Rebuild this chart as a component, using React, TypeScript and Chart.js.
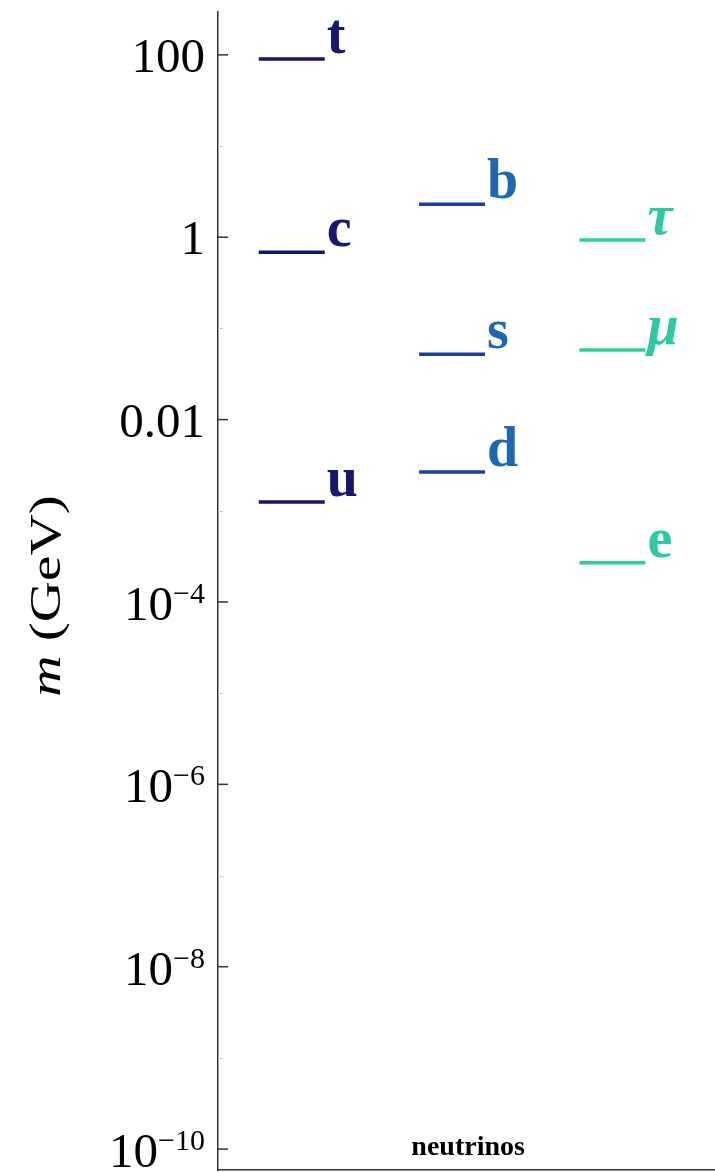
import React, { useEffect, useRef } from "react";
import { Chart, registerables } from "chart.js";

Chart.register(...registerables);

// ---- data ----
const categories = ["up-type quarks", "down-type quarks", "charged leptons"];
const upNames = ["t", "c", "u"];
const upMasses = [90, 0.685, 0.00125];
const downNames = ["b", "s", "d"];
const downMasses = [2.3, 0.052, 0.00267];
const leptonNames = ["τ", "μ", "e"];
const leptonMasses = [0.93, 0.058, 0.00027];
const italicNames = ["τ", "μ"];

const tickValues = [100, 1, 0.01, 1e-4, 1e-6, 1e-8, 1e-10];
const tickLabels = ["100", "1", "0.01", "10^−4", "10^−6", "10^−8", "10^−10"];
const minorTickValues = [10, 0.1, 1e-3, 1e-5, 1e-7, 1e-9];

const neutrinoLabel = "neutrinos";
const neutrinoPosition = { x: 1.1, y: 1e-10 };

const yTitleVar = "m";
const yTitleUnit = " (GeV)";

const yMin = 5.9e-11;
const yMax = 295;

const SERIF = '"Liberation Serif", "Times New Roman", serif';

const groups = [
  { name: categories[0], names: upNames, masses: upMasses, line: "#15156b", text: "#18166f" },
  { name: categories[1], names: downNames, masses: downMasses, line: "#1d3f98", text: "#1e68b2" },
  { name: categories[2], names: leptonNames, masses: leptonMasses, line: "#2bcf9f", text: "#2cc9a3" },
];

const decorPlugin = {
  id: "decor",
  afterDatasetsDraw(chart: any) {
    const ctx = chart.ctx as CanvasRenderingContext2D;
    chart.data.datasets.forEach((ds: any, di: number) => {
      const meta = chart.getDatasetMeta(di);
      ctx.save();
      ctx.fillStyle = ds.labelColor;
      ctx.textAlign = "left";
      ctx.textBaseline = "alphabetic";
      meta.data.forEach((pt: any, i: number) => {
        const nm = ds.names[i];
        const it = italicNames.includes(nm);
        ctx.font = `${it ? "italic " : ""}bold 56px ${SERIF}`;
        ctx.fillText(nm, pt.x + ds.pointRadius + 2, pt.y - 6);
      });
      ctx.restore();
    });
  },
  afterDraw(chart: any) {
    const ctx = chart.ctx as CanvasRenderingContext2D;
    const y = chart.scales.y;
    const x = chart.scales.x;
    const left = chart.chartArea.left;

    ctx.save();
    ctx.strokeStyle = "#c8c8c8";
    ctx.lineWidth = 1;
    minorTickValues.forEach((v) => {
      const py = Math.round(y.getPixelForValue(v)) + 0.5;
      ctx.beginPath();
      ctx.moveTo(left, py);
      ctx.lineTo(left + 5, py);
      ctx.stroke();
    });
    ctx.strokeStyle = "#333";
    ctx.lineWidth = 1.5;
    tickValues.forEach((v) => {
      const py = y.getPixelForValue(v);
      ctx.beginPath();
      ctx.moveTo(left, py);
      ctx.lineTo(left + 10, py);
      ctx.stroke();
    });

    ctx.fillStyle = "#000";
    ctx.textBaseline = "alphabetic";
    ctx.textAlign = "left";
    const right = left - 13;
    tickValues.forEach((v, i) => {
      const py = y.getPixelForValue(v);
      const parts = tickLabels[i].split("^");
      ctx.font = `49px ${SERIF}`;
      const w1 = ctx.measureText(parts[0]).width;
      if (parts.length === 1) {
        ctx.fillText(parts[0], right - w1, py + 17);
      } else {
        ctx.font = `30px ${SERIF}`;
        const w2 = ctx.measureText(parts[1]).width;
        ctx.font = `49px ${SERIF}`;
        ctx.fillText(parts[0], right - w1 - w2, py + 18);
        ctx.font = `30px ${SERIF}`;
        ctx.fillText(parts[1], right - w2, py + 1);
      }
    });

    ctx.font = `bold 28px ${SERIF}`;
    ctx.textAlign = "center";
    ctx.fillText(
      neutrinoLabel,
      x.getPixelForValue(neutrinoPosition.x),
      y.getPixelForValue(neutrinoPosition.y) + 6
    );

    ctx.translate(60, (chart.chartArea.top + chart.chartArea.bottom) / 2 + 5);
    ctx.rotate(-Math.PI / 2);
    ctx.scale(1.3, 1);
    ctx.textAlign = "left";
    ctx.font = `italic 44px ${SERIF}`;
    const wm = ctx.measureText(yTitleVar).width;
    ctx.font = `44px ${SERIF}`;
    const wu = ctx.measureText(yTitleUnit).width;
    const start = -(wm + wu) / 2;
    ctx.font = `italic 44px ${SERIF}`;
    ctx.fillText(yTitleVar, start, 0);
    ctx.font = `44px ${SERIF}`;
    ctx.fillText(yTitleUnit, start + wm, 0);
    ctx.restore();
  },
};

export default function App() {
  const ref = useRef<HTMLCanvasElement | null>(null);

  useEffect(() => {
    document.body.style.margin = "0";
    const canvas = ref.current;
    if (!canvas) return;
    const chart = new Chart(canvas, {
      type: "scatter",
      data: {
        datasets: groups.map((g, gi) => ({
          label: g.name,
          data: g.masses.map((m) => ({ x: gi, y: m })),
          names: g.names,
          labelColor: g.text,
          pointStyle: "line",
          pointRadius: 33,
          pointHoverRadius: 33,
          pointBorderWidth: 3.5,
          pointBorderColor: g.line,
          borderColor: g.line,
          backgroundColor: g.line,
          showLine: false,
        })) as any,
      },
      options: {
        responsive: false,
        animation: false,
        devicePixelRatio: 1,
        layout: { autoPadding: false, padding: { left: 218, top: 12, right: 0, bottom: 2 } },
        plugins: {
          legend: { display: false },
          tooltip: { enabled: false },
        },
        events: [],
        scales: {
          x: {
            type: "linear",
            min: -0.46,
            max: 2.64,
            ticks: { display: false },
            grid: { display: false, drawTicks: false },
            border: { display: true, color: "#333", width: 1.5 },
          },
          y: {
            type: "logarithmic",
            min: yMin,
            max: yMax,
            ticks: { display: false },
            grid: { display: false, drawTicks: false },
            border: { display: true, color: "#333", width: 1.5 },
          },
        },
      },
      plugins: [decorPlugin],
    });
    return () => chart.destroy();
  }, []);

  return (
    <div style={{ width: 715, height: 1172, background: "#fff" }}>
      <canvas ref={ref} width={715} height={1172} style={{ display: "block" }} />
    </div>
  );
}
